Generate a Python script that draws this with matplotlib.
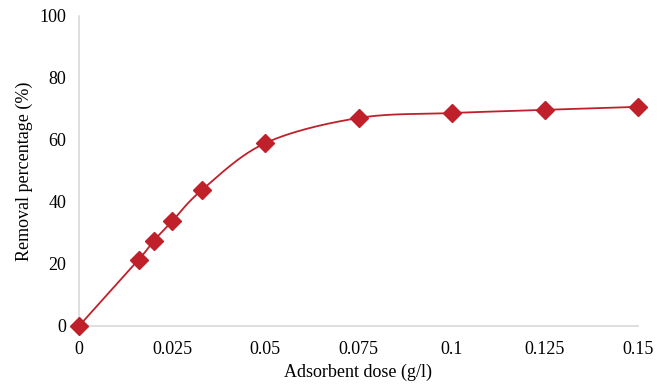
import numpy as np
import matplotlib
matplotlib.use("Agg")
import matplotlib.pyplot as plt

dose = [0, 0.016, 0.02, 0.025, 0.033, 0.05, 0.075, 0.1, 0.125, 0.15]
removal = [0, 21.4, 27.4, 33.8, 43.9, 59.0, 67.1, 68.7, 69.7, 70.7]
xticks = [0, 0.025, 0.05, 0.075, 0.1, 0.125, 0.15]
xticklabels = ["0", "0.025", "0.05", "0.075", "0.1", "0.125", "0.15"]
yticks = [0, 20, 40, 60, 80, 100]

color = "#C0202A"
plt.rcParams['font.family'] = ['Liberation Serif', 'DejaVu Serif']

fig = plt.figure(figsize=(6.65, 3.85), dpi=100)
ax = fig.add_axes([79/665, 59/385, (638-79)/665, (326-16)/385])
ax.set_xlim(0, 0.15)
ax.set_ylim(0, 100)

# Excel-like smoothed line (Bezier through points), computed in screen-ish units
W, H = 559.0, 310.0
px = np.array(dose) / 0.15 * W
py = np.array(removal) / 100 * H
P = np.column_stack([px, py])
n = len(P)
curve = []
t = np.linspace(0, 1, 40)
for i in range(n - 1):
    p0 = P[i]
    p3 = P[i + 1]
    prev = P[i - 1] if i > 0 else P[i]
    nxt = P[i + 2] if i + 2 < n else P[i + 1]
    c1 = p0 + (p3 - prev) / 6.0
    c2 = p3 - (nxt - p0) / 6.0
    seg = ((1 - t)[:, None] ** 3 * p0 + 3 * ((1 - t) ** 2 * t)[:, None] * c1
           + 3 * ((1 - t) * t ** 2)[:, None] * c2 + (t ** 3)[:, None] * p3)
    curve.append(seg if i == 0 else seg[1:])
curve = np.vstack(curve)
ax.plot(curve[:, 0] / W * 0.15, curve[:, 1] / H * 100, color=color, lw=1.3, clip_on=False, zorder=2)
ax.plot(dose, removal, linestyle="none", marker="D", ms=9, color=color, clip_on=False, zorder=3)

for s in ["top", "right"]:
    ax.spines[s].set_visible(False)
for s in ["left", "bottom"]:
    ax.spines[s].set_color("#d9d9d9")
    ax.spines[s].set_linewidth(1.2)
ax.set_xticks(xticks)
ax.set_xticklabels(xticklabels)
ax.set_yticks(yticks)
ax.tick_params(length=0, labelsize=13)
ax.tick_params(axis="x", pad=11)
ax.tick_params(axis="y", pad=9)
ax.set_xlabel("Adsorbent dose (g/l)", fontsize=13, labelpad=4)
ax.set_ylabel("Removal percentage (%)", fontsize=13, labelpad=5)

fig.savefig("out.png", dpi=100)
